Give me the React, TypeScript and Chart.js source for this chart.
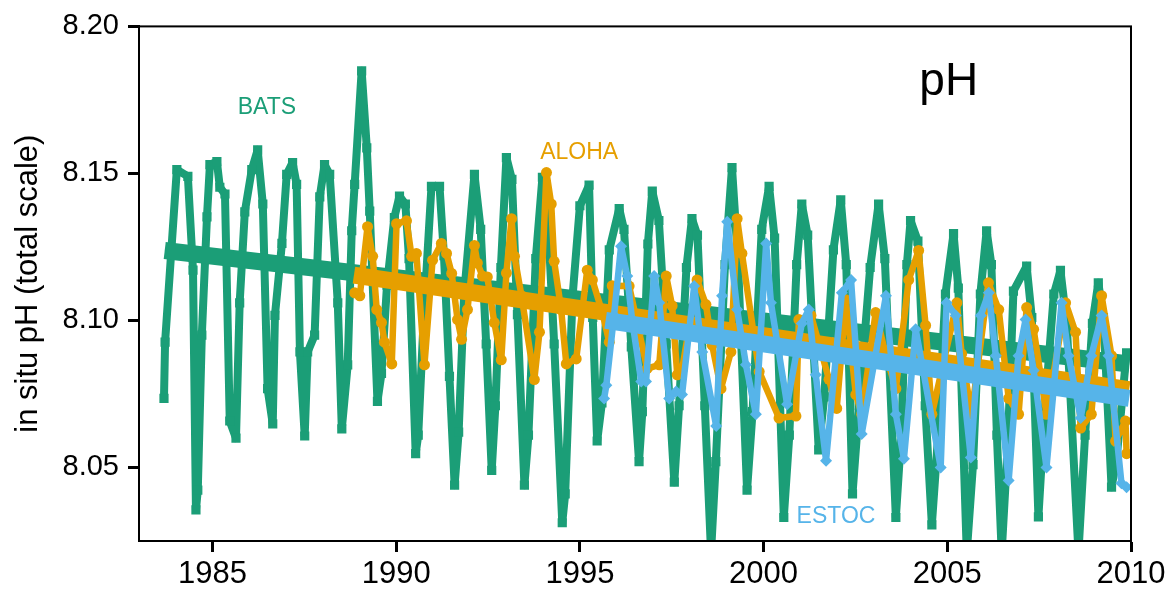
import React, { useEffect, useRef } from "react";
import { Chart, registerables } from "chart.js";

Chart.register(...registerables);

const FONT = "'Liberation Sans', Arial, Helvetica, sans-serif";
const GREEN = "#1b9e77";
const ORANGE = "#e69f00";
const BLUE = "#56b4e9";

const xTickValues = [1985, 1990, 1995, 2000, 2005, 2010];
const yTickValues = [8.05, 8.1, 8.15, 8.2];

// BATS (Bermuda) in situ pH
const batsYears = [
  1983.68, 1983.71, 1984.03, 1984.33, 1984.47, 1984.55, 1984.6, 1984.71, 1984.85, 1984.93,
  1985.12, 1985.2, 1985.34, 1985.47, 1985.64, 1985.74, 1985.88, 1986.07, 1986.23, 1986.37,
  1986.5, 1986.64, 1986.7, 1986.89, 1987.02, 1987.18, 1987.29, 1987.38, 1987.51, 1987.59,
  1987.78, 1987.92, 1988.05, 1988.19, 1988.41, 1988.52, 1988.68, 1988.79, 1988.87, 1989.06,
  1989.2, 1989.28, 1989.49, 1989.6, 1989.75, 1989.95, 1990.09, 1990.25, 1990.35, 1990.53,
  1990.6, 1990.75, 1990.96, 1991.18, 1991.3, 1991.45, 1991.59, 1991.7, 1991.85, 1992.13,
  1992.3, 1992.45, 1992.6, 1992.7, 1992.85, 1993.0, 1993.15, 1993.3, 1993.49, 1993.6,
  1993.8, 1993.98, 1994.1, 1994.3, 1994.52, 1994.6, 1994.8, 1995.0, 1995.25, 1995.35,
  1995.47, 1995.6, 1995.8, 1996.07, 1996.2, 1996.4, 1996.61, 1996.7, 1996.85, 1996.97,
  1997.15, 1997.35, 1997.57, 1997.7, 1997.9, 1998.05, 1998.2, 1998.4, 1998.57, 1998.7,
  1998.95, 1999.14, 1999.3, 1999.55, 1999.7, 1999.95, 2000.15, 2000.3, 2000.55, 2000.7,
  2000.9, 2001.04, 2001.2, 2001.5, 2001.65, 2001.9, 2002.1, 2002.25, 2002.42, 2002.6,
  2002.9, 2003.13, 2003.3, 2003.6, 2003.75, 2003.9, 2004.0, 2004.2, 2004.4, 2004.58,
  2004.75, 2004.95, 2005.17, 2005.3, 2005.53, 2005.7, 2005.9, 2006.07, 2006.2, 2006.35,
  2006.48, 2006.65, 2006.8, 2007.16, 2007.3, 2007.48, 2007.65, 2007.9, 2008.08, 2008.25,
  2008.57, 2008.75, 2008.95, 2009.11, 2009.25, 2009.47, 2009.6, 2009.88,
];
const batsPH = [
  8.0735, 8.0926, 8.1513, 8.149, 8.1171, 8.0356, 8.0423, 8.095, 8.1352, 8.153,
  8.154, 8.1453, 8.143, 8.0658, 8.06, 8.106, 8.1369, 8.1513, 8.158, 8.1396,
  8.0768, 8.0648, 8.1017, 8.1262, 8.1497, 8.1537, 8.1463, 8.0893, 8.0607, 8.0893,
  8.095, 8.142, 8.153, 8.1497, 8.106, 8.0631, 8.0849, 8.1305, 8.1463, 8.1849,
  8.1587, 8.1372, 8.0725, 8.082, 8.112, 8.135, 8.1423, 8.1396, 8.121, 8.0547,
  8.061, 8.101, 8.1456, 8.1456, 8.122, 8.081, 8.044, 8.062, 8.109, 8.1497,
  8.131, 8.092, 8.049, 8.071, 8.118, 8.1554, 8.148, 8.102, 8.044, 8.061,
  8.121, 8.1487, 8.141, 8.092, 8.0312, 8.041, 8.108, 8.139, 8.146, 8.101,
  8.059, 8.072, 8.124, 8.138, 8.131, 8.091, 8.052, 8.069, 8.126, 8.144,
  8.134, 8.092, 8.045, 8.071, 8.118, 8.1346, 8.129, 8.071, 8.021, 8.052,
  8.119, 8.152, 8.121, 8.0423, 8.069, 8.131, 8.1456, 8.128, 8.033, 8.061,
  8.119, 8.1396, 8.129, 8.056, 8.074, 8.124, 8.141, 8.119, 8.041, 8.071,
  8.118, 8.1396, 8.121, 8.033, 8.062, 8.119, 8.134, 8.127, 8.071, 8.0305,
  8.061, 8.109, 8.1295, 8.111, 8.021, 8.051, 8.109, 8.1305, 8.119, 8.061,
  8.021, 8.059, 8.11, 8.1185, 8.101, 8.0332, 8.069, 8.109, 8.117, 8.099,
  8.021, 8.061, 8.099, 8.1128, 8.101, 8.0433, 8.052, 8.089,
];

// ALOHA (Hawaii) in situ pH
const alohaYears = [
  1988.87, 1989.01, 1989.22, 1989.36, 1989.47, 1989.6, 1989.68, 1989.88, 1990.01, 1990.28,
  1990.42, 1990.55, 1990.77, 1990.99, 1991.23, 1991.37, 1991.51, 1991.67, 1991.78, 1991.94,
  1992.13, 1992.21, 1992.35, 1992.48, 1992.67, 1992.86, 1993.0, 1993.14, 1993.22, 1993.41,
  1993.76, 1993.9, 1994.09, 1994.22, 1994.3, 1994.49, 1994.63, 1994.9, 1995.2, 1995.34,
  1995.61, 1995.8, 1995.88, 1996.34, 1996.61, 1996.83, 1997.16, 1997.35, 1997.51, 1997.65,
  1997.78, 1998.19, 1998.43, 1998.6, 1998.84, 1999.11, 1999.28, 1999.41, 1999.88, 2000.42,
  2000.88, 2000.96, 2001.29, 2001.78, 2001.99, 2002.24, 2002.51, 2002.67, 2003.05, 2003.33,
  2003.6, 2003.95, 2004.22, 2004.41, 2004.58, 2005.26, 2005.39, 2005.66, 2006.12, 2006.4,
  2006.67, 2006.94, 2007.16, 2007.35, 2007.7, 2008.22, 2008.49, 2008.63, 2008.92, 2009.2,
  2009.47, 2009.58, 2009.85, 2009.88,
];
const alohaPH = [
  8.1094, 8.1084, 8.1319, 8.1218, 8.1037, 8.0993, 8.0926, 8.0852, 8.1329, 8.1339,
  8.1218, 8.1228, 8.0849, 8.1205, 8.1262, 8.1228, 8.116, 8.1003, 8.0936, 8.1037,
  8.1255, 8.1195, 8.1151, 8.1148, 8.0993, 8.0866, 8.1161, 8.1346, 8.1218, 8.1084,
  8.0799, 8.096, 8.1503, 8.1396, 8.1201, 8.1037, 8.0852, 8.0869, 8.1171, 8.1138,
  8.1027, 8.0926, 8.1118, 8.1117, 8.0962, 8.0836, 8.0849, 8.1151, 8.105, 8.0815,
  8.0832, 8.1138, 8.1054, 8.0916, 8.0768, 8.0893, 8.1346, 8.1228, 8.0826, 8.0668,
  8.0675, 8.1003, 8.1017, 8.08, 8.0701, 8.107, 8.0748, 8.0681, 8.1027, 8.088,
  8.0768, 8.1138, 8.1238, 8.0983, 8.0681, 8.106, 8.0886, 8.0681, 8.1128, 8.1037,
  8.0735, 8.0681, 8.1044, 8.097, 8.0681, 8.106, 8.096, 8.0634, 8.0681, 8.1084,
  8.088, 8.059, 8.0658, 8.0547,
];

// ESTOC (Canary Islands) in situ pH
const estocYears = [
  1995.66, 1995.72, 1995.93, 1996.12, 1996.29, 1996.42, 1996.67, 1996.8, 1997.02, 1997.16,
  1997.43, 1997.62, 1997.78, 1998.11, 1998.33, 1998.71, 1998.87, 1999.01, 1999.28, 1999.52,
  1999.79, 2000.07, 2000.2, 2000.64, 2001.04, 2001.23, 2001.42, 2001.7, 2002.13, 2002.38,
  2002.67, 2003.33, 2003.6, 2003.82, 2004.14, 2004.82, 2004.98, 2005.23, 2005.64, 2005.91,
  2006.13, 2006.32, 2006.67, 2006.94, 2007.13, 2007.35, 2007.7, 2008.11, 2008.3, 2008.63,
  2008.92, 2009.2, 2009.39, 2009.74, 2009.88,
];
const estocPH = [
  8.0735, 8.078, 8.1017, 8.1252, 8.1151, 8.1003, 8.0792, 8.0792, 8.1151, 8.106,
  8.0735, 8.0758, 8.0748, 8.1117, 8.0893, 8.0641, 8.1084, 8.1336, 8.1037, 8.0849,
  8.0681, 8.1262, 8.106, 8.0715, 8.099, 8.1037, 8.0815, 8.0523, 8.1094, 8.1138,
  8.0614, 8.1084, 8.0681, 8.053, 8.097, 8.05, 8.106, 8.1017, 8.0534, 8.1017,
  8.1094, 8.088, 8.0456, 8.088, 8.1003, 8.083, 8.05, 8.106, 8.088, 8.0668,
  8.088, 8.1017, 8.088, 8.0446, 8.0433,
];

// Linear trends (start / end)
const batsTrendYears = [1983.7, 2009.95];
const batsTrendPH = [8.1238, 8.0852];
const alohaTrendYears = [1988.85, 2009.95];
const alohaTrendPH = [8.1154, 8.0765];
const estocTrendYears = [1995.7, 2009.95];
const estocTrendPH = [8.1, 8.0735];

const labels = [
  { text: "BATS", x: 1986.48, y: 8.1725, color: GREEN, size: 23 },
  { text: "ALOHA", x: 1994.98, y: 8.157, color: ORANGE, size: 23 },
  { text: "ESTOC", x: 2001.97, y: 8.0332, color: BLUE, size: 23 },
  { text: "pH", x: 2005.04, y: 8.181, color: "#000", size: 46 },
];

const pts = (xs: number[], ys: number[]) => xs.map((x, i) => ({ x, y: ys[i] }));

export default function App() {
  const ref = useRef<HTMLCanvasElement | null>(null);

  useEffect(() => {
    document.body.style.margin = "0";
    const canvas = ref.current;
    if (!canvas) return;

    const framePlugin = {
      id: "frameAndLabels",
      afterDatasetsDraw(chart: any) {
        const { ctx, chartArea, scales } = chart;
        ctx.save();
        ctx.strokeStyle = "#000";
        ctx.lineWidth = 2;
        ctx.strokeRect(chartArea.left, chartArea.top, chartArea.right - chartArea.left, chartArea.bottom - chartArea.top);
        ctx.textAlign = "center";
        ctx.textBaseline = "middle";
        for (const l of labels) {
          ctx.font = `${l.size}px ${FONT}`;
          ctx.fillStyle = l.color;
          ctx.fillText(l.text, scales.x.getPixelForValue(l.x), scales.y.getPixelForValue(l.y));
        }
        ctx.restore();
      },
    };

    const dataLine = (label: string, data: any[], color: string, style: string, radius: number, width: number, order: number) => ({
      label,
      data,
      borderColor: color,
      backgroundColor: color,
      borderWidth: width,
      pointStyle: style,
      pointRadius: radius,
      pointBorderWidth: 0,
      pointBackgroundColor: color,
      borderJoinStyle: "round",
      tension: 0,
      clip: 0,
      order,
    });
    const trendLine = (label: string, data: any[], color: string, order: number) => ({
      label,
      data,
      borderColor: color,
      backgroundColor: color,
      borderWidth: 17,
      pointRadius: 0,
      borderCapStyle: "butt",
      tension: 0,
      clip: 0,
      order,
    });

    const chart = new Chart(canvas, {
      type: "line",
      data: {
        datasets: [
          dataLine("BATS", pts(batsYears, batsPH), GREEN, "rect", 6.5, 8, 6),
          trendLine("BATS trend", pts(batsTrendYears, batsTrendPH), GREEN, 5),
          dataLine("ALOHA", pts(alohaYears, alohaPH), ORANGE, "circle", 5.5, 6.5, 4),
          trendLine("ALOHA trend", pts(alohaTrendYears, alohaTrendPH), ORANGE, 3),
          dataLine("ESTOC", pts(estocYears, estocPH), BLUE, "rectRot", 6, 6.5, 2),
          trendLine("ESTOC trend", pts(estocTrendYears, estocTrendPH), BLUE, 1),
        ] as any,
      },
      options: {
        animation: false,
        responsive: false,
        maintainAspectRatio: false,
        layout: { padding: { top: 20, right: 39, left: 0, bottom: 0 } },
        plugins: { legend: { display: false }, tooltip: { enabled: false } },
        scales: {
          x: {
            type: "linear",
            min: 1983,
            max: 2010,
            afterBuildTicks: (s: any) => {
              s.ticks = xTickValues.map((v) => ({ value: v }));
            },
            afterFit: (s: any) => {
              s.height = 50;
            },
            ticks: {
              color: "#000",
              font: { size: 31, family: FONT },
              padding: 4,
              maxRotation: 0,
              autoSkip: false,
              callback: (v: any) => String(v),
            },
            grid: { drawOnChartArea: false, drawTicks: true, tickLength: 11, tickWidth: 3, tickColor: "#000" },
            border: { display: true, color: "#000", width: 2 },
          },
          y: {
            type: "linear",
            min: 8.025,
            max: 8.2,
            afterBuildTicks: (s: any) => {
              s.ticks = yTickValues.map((v) => ({ value: v }));
            },
            afterFit: (s: any) => {
              s.width = 139;
            },
            ticks: {
              color: "#000",
              font: { size: 29, family: FONT },
              padding: 9,
              autoSkip: false,
              callback: (v: any) => Number(v).toFixed(2),
            },
            grid: { drawOnChartArea: false, drawTicks: true, tickLength: 11, tickWidth: 3, tickColor: "#000" },
            border: { display: true, color: "#000", width: 2 },
            title: {
              display: true,
              text: "in situ pH (total scale)",
              color: "#000",
              font: { size: 31, family: FONT },
              padding: { top: 10, bottom: 0 },
            },
          },
        },
      },
      plugins: [framePlugin],
    } as any);

    return () => chart.destroy();
  }, []);

  return (
    <div style={{ width: 1170, height: 591, background: "#fff" }}>
      <canvas ref={ref} width={1170} height={591} style={{ display: "block" }} />
    </div>
  );
}
